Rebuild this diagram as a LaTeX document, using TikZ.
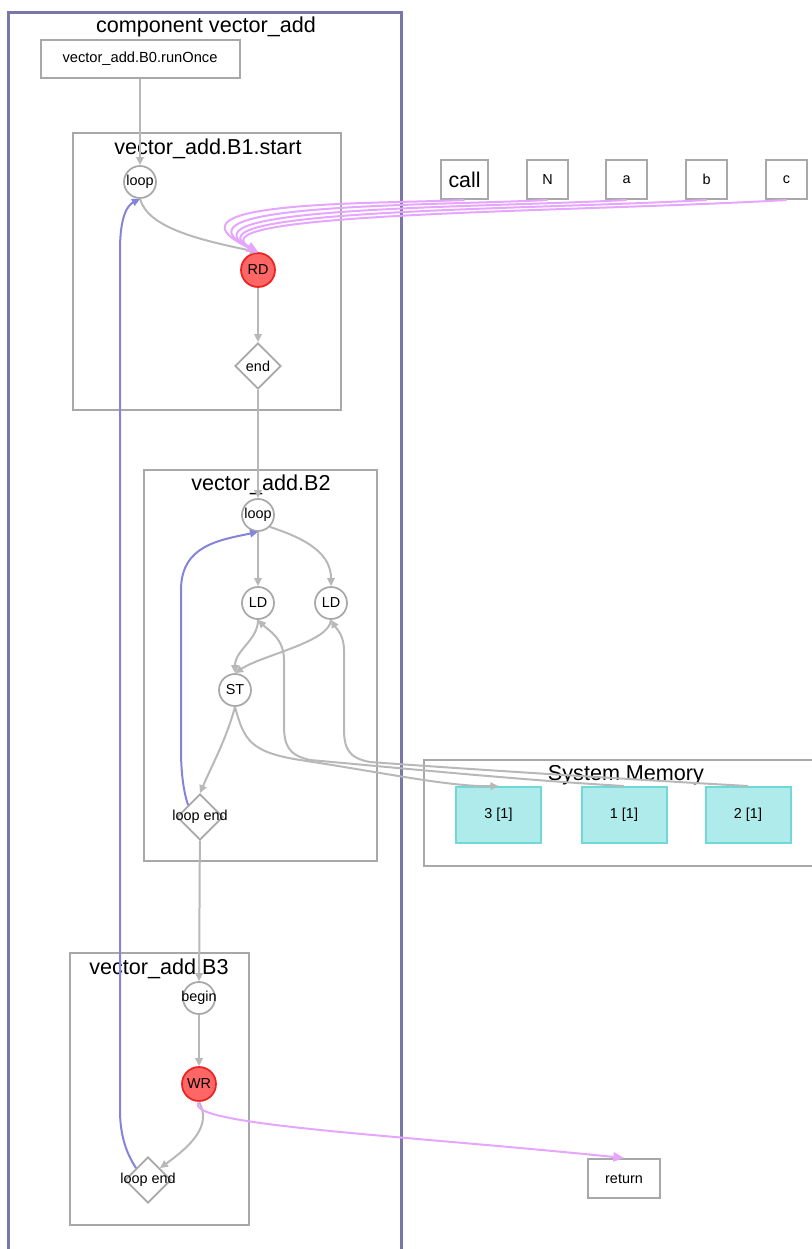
\documentclass[tikz,border=0pt]{standalone}
\usepackage{fontspec}
\setmainfont{Liberation Sans}
\usetikzlibrary{shapes.geometric,arrows.meta,fit}
\definecolor{edgegray}{HTML}{B8B8B8}
\definecolor{boxgray}{HTML}{A8A8A8}
\definecolor{compblue}{HTML}{7777AA}
\definecolor{backblue}{HTML}{8484DA}
\definecolor{dataviolet}{HTML}{E6A6FF}
\definecolor{rdfill}{HTML}{FF6666}
\definecolor{rddraw}{HTML}{EE2020}
\definecolor{memfill}{HTML}{AFEBEB}
\definecolor{memdraw}{HTML}{70D8D8}
\begin{document}
\begin{tikzpicture}[x=0.75pt,y=-0.75pt,
  font=\fontsize{10.8}{12}\selectfont,
  op/.style={circle,draw=boxgray,fill=white,line width=1.3pt,minimum size=24pt,inner sep=0pt},
  hot/.style={op,fill=rdfill,draw=rddraw,minimum size=25.5pt},
  cond/.style={diamond,draw=boxgray,fill=white,line width=1.3pt,minimum width=34.5pt,minimum height=34.5pt,inner sep=0pt},
  cluster/.style={draw=boxgray,line width=1.5pt,inner sep=0pt},
  plain/.style={draw=boxgray,line width=1.5pt,fill=white,inner sep=0pt},
  cell/.style={draw=memdraw,fill=memfill,line width=1.5pt,minimum width=63.75pt,minimum height=42pt,inner sep=0pt},
  flow/.style={draw=edgegray,line width=1.5pt,-{Triangle[length=6pt,width=5.5pt]}},
  back/.style={draw=backblue,line width=1.5pt,-{Triangle[length=6pt,width=5.5pt]}},
  data/.style={draw=dataviolet,line width=1.5pt,-{Triangle[length=8pt,width=7pt]}},
  title/.style={font=\fontsize{16.2}{18}\selectfont,inner sep=0pt}
]
\useasboundingbox (0,0) rectangle (811,1249);
% clusters
\node[fit={(8,12) (401,1262)},draw=compblue,line width=2.25pt,inner sep=0pt] (comp) {};
\node[title] (comptitle) at (206,27) {component vector\_add};
\node[cluster,fit={(73,133) (341,410)}] (B1) {};
\node[title] (B1t) at (208,149) {vector\_add.B1.start};
\node[cluster,fit={(144,470) (377,861)}] (B2) {};
\node[title] (B2t) at (261,485) {vector\_add.B2};
\node[cluster,fit={(70,953) (249,1225)}] (B3) {};
\node[title] (B3t) at (159,969) {vector\_add.B3};
\node[cluster,fit={(424,760) (816,866)}] (mem) {};
\node[title] (memt) at (626,775) {System Memory};
% nodes
\node[plain,minimum width=149.25pt,minimum height=28.5pt,font=\fontsize{11}{12}\selectfont] (b0) at (140,59) {vector\_add.B0.runOnce};
\node[op,label={center:loop}] (l1) at (140,182) {};
\node[hot,label={center:RD}] (rd) at (258,270) {};
\node[cond,label={center:end}] (e1) at (258,366) {};
\node[op,label={center:loop}] (l2) at (258,515) {};
\node[op,label={center:LD}] (ld1) at (258,603) {};
\node[op,label={center:LD}] (ld2) at (331,603) {};
\node[op,label={center:ST}] (st) at (235,690) {};
\node[cond,label={center:loop end}] (le2) at (200,817) {};
\node[op,label={center:begin}] (bg) at (199,998) {};
\node[hot,label={center:WR}] (wr) at (199,1084) {};
\node[cond,label={center:loop end}] (le3) at (148,1180) {};
\node[cell] (m3) at (498.5,815) {3 [1]};
\node[cell] (m1) at (624,815) {1 [1]};
\node[cell] (m2) at (748,815) {2 [1]};
\node[plain,minimum width=35.25pt,minimum height=29.25pt,font=\fontsize{16}{18}\selectfont] (call) at (464.5,179.5) {call};
\node[plain,minimum width=30.75pt,minimum height=29.25pt] (pN) at (547.5,179.5) {N};
\node[plain,minimum width=30.75pt,minimum height=29.25pt] (pa) at (626.5,179.5) {a};
\node[plain,minimum width=30.75pt,minimum height=29.25pt] (pb) at (706.5,179.5) {b};
\node[plain,minimum width=30.75pt,minimum height=29.25pt] (pc) at (786.5,179.5) {c};
\node[plain,minimum width=54pt,minimum height=29.25pt] (ret) at (624,1178.5) {return};
% gray flow edges
\draw[flow] (b0.south) -- (l1.north);
\draw[flow] (l1.south) .. controls (148,228) and (200,240) .. (rd.north);
\draw[flow] (rd) -- (e1);
\draw[flow] (e1) -- (l2);
\draw[flow] (l2) -- (ld1);
\draw[flow] (l2.south east) .. controls (310,540) and (331,555) .. (ld2.north);
\draw[flow] (ld1.south) .. controls (258,640) and (235,650) .. (st.north);
\draw[flow] (ld2.south) .. controls (330,642) and (262,655) .. (st.north);
\draw[flow] (st.south) .. controls (226,740) and (212,765) .. (le2.north);
\draw[flow] (st.south) .. controls (244,740) and (250,752) .. (300,760) .. controls (380,772) and (450,787) .. (m3.north);
\draw[flow] (m1.north) .. controls (520,780) and (400,768) .. (310,760) .. controls (288,755) and (284,745) .. (284,725) -- (284,660) .. controls (284,638) and (268,630) .. (ld1.south);
\draw[flow] (m2.north) .. controls (640,780) and (450,768) .. (370,762) .. controls (348,758) and (344,748) .. (344,728) -- (344,650) .. controls (344,635) and (336,628) .. (ld2.south);
\draw[flow] (le2) -- (bg);
\draw[flow] (bg) -- (wr);
\draw[flow] (wr.south) .. controls (212,1125) and (192,1145) .. (le3.north east);
% back edges
\draw[back] (le3.north west) .. controls (124,1150) and (120,1130) .. (120,1110) -- (120,250) .. controls (120,215) and (128,205) .. (l1.south);
\draw[back] (le2.north west) .. controls (183,790) and (181,770) .. (181,750) -- (181,590) .. controls (181,545) and (220,540) .. (l2.south);
% data edges
\draw[data] (call.south) .. controls (380,204) and (150,200) .. (rd.north);
\draw[data] (pN.south) .. controls (430,206) and (160,203) .. (rd.north);
\draw[data] (pa.south) .. controls (480,208) and (170,206) .. (rd.north);
\draw[data] (pb.south) .. controls (530,210) and (180,209) .. (rd.north);
\draw[data] (pc.south) .. controls (580,212) and (190,212) .. (rd.north);
\draw[data] (wr.south) .. controls (180,1125) and (400,1135) .. (ret.north);
\end{tikzpicture}
\end{document}
